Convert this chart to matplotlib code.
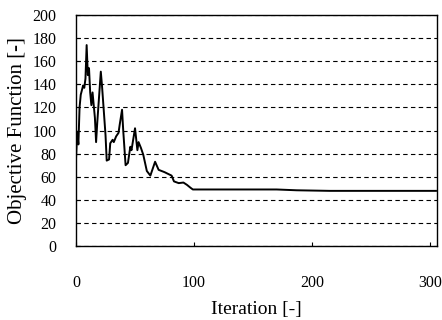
import matplotlib
matplotlib.use('Agg')
import matplotlib.pyplot as plt

plt.rcParams['font.family'] = ['Liberation Serif', 'DejaVu Serif']

# values
iteration = [0, 1, 2, 3, 4, 6, 7, 8, 9, 10, 11, 12, 13, 14, 16, 17, 18, 21, 22,
             25, 26, 28, 29, 31, 32, 34, 36, 37, 39, 40, 42, 44, 46, 47, 50, 52,
             53, 55, 57, 60, 63, 67, 70, 75, 81, 83, 87, 91, 94, 97, 99, 170,
             187, 215, 305]
objective = [76, 99, 88, 120, 131, 139, 137, 145, 174, 148, 154, 133, 122, 133,
             111, 90, 107, 151, 139, 96, 74, 75, 89, 92, 90, 95, 98, 105, 118,
             100, 70, 72, 86, 83, 102, 83, 90, 85, 79, 65, 61, 73, 66, 64, 61,
             56, 54.5, 55, 53, 50.5, 49, 49, 48.3, 47.8, 47.8]
x_ticks = [0, 100, 200, 300]
y_ticks = list(range(0, 201, 20))

fig = plt.figure(figsize=(4.42, 3.2), dpi=100)
ax = fig.add_axes([0.172, 0.231, 0.817, 0.722])

ax.plot(iteration, objective, color='black', linewidth=1.4)

ax.set_xlim(0, 306)
ax.set_ylim(0, 200)
ax.set_xticks(x_ticks)
ax.set_yticks(y_ticks)
ax.yaxis.grid(True, color='black', linestyle=(0, (4, 3)), linewidth=0.8)
ax.tick_params(direction='in', length=3, width=0.8, labelsize=11.5)
ax.tick_params(axis='x', pad=21)
ax.tick_params(axis='y', pad=14)
for s in ax.spines.values():
    s.set_linewidth(1.0)

ax.set_xlabel('Iteration [-]', fontsize=14, labelpad=7)
ax.set_ylabel('Objective Function [-]', fontsize=15, labelpad=4)

fig.savefig('out.png', dpi=100)
